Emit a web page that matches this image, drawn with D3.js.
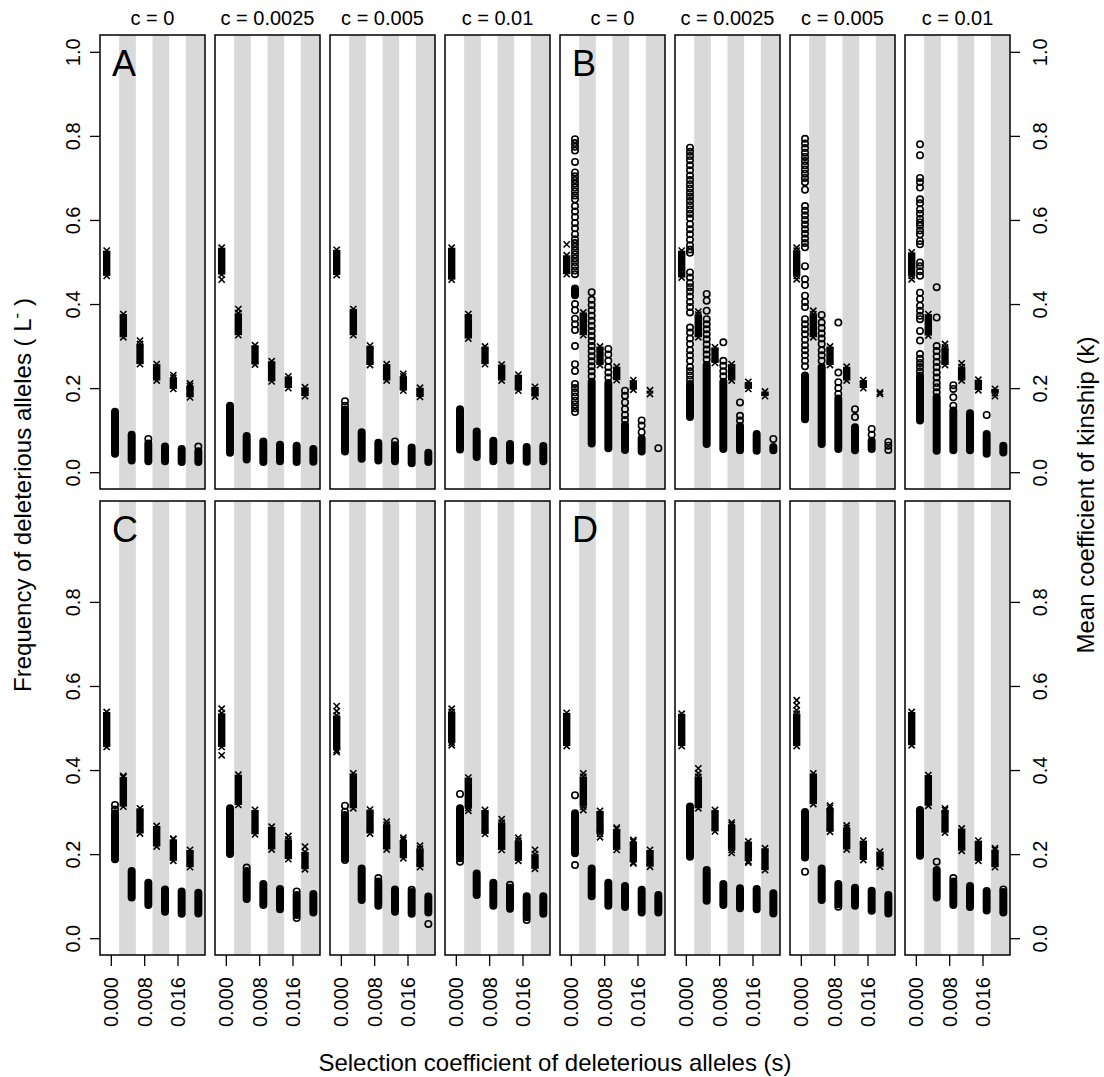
<!DOCTYPE html>
<html>
<head>
<meta charset="utf-8">
<script src="https://cdn.jsdelivr.net/npm/d3@7"></script>
<style>
body { margin: 0; background: #fff; }
svg { display: block; font-family: "Liberation Sans", Arial, Helvetica, sans-serif; }
</style>
</head>
<body>
<svg id="chart" width="1104" height="1077"></svg>
<script>
// selection coefficients (one column of points each) and the c values of the panels
var sValues = [0, 0.004, 0.008, 0.012, 0.016, 0.020];
var cLabels = ["0", "0.0025", "0.005", "0.01"];
var xTicks = [0, 0.008, 0.016];
var yTicksTop = [0, 0.2, 0.4, 0.6, 0.8, 1.0];
var yTicksBottom = [0, 0.2, 0.4, 0.6, 0.8];

// every panel: 6 columns (one per s); a column is a list of
// single replicate values or [lo, hi] runs where replicates pile up solid
// kinship = crosses, allele frequency = open circles
var kinA = [
    [[[0.467,0.527]], [[0.321,0.376]], [[0.257,0.305],0.313], [[0.218,0.257]], [[0.198,0.225],0.231], [[0.178,0.205],0.211]],
    [[[0.47,0.534],0.458], [[0.326,0.378],0.388], [[0.256,0.302]], [[0.216,0.264]], [[0.2,0.228]], [[0.181,0.202]]],
    [[[0.469,0.529]], [[0.326,0.388]], [[0.255,0.301]], [[0.218,0.257]], [[0.194,0.228],0.234], [[0.179,0.201]]],
    [[[0.458,0.534]], [[0.318,0.376]], [[0.257,0.299]], [[0.218,0.256]], [[0.194,0.232]], [[0.18,0.203]]]
];
var freqA = [
    [[[0.044,0.144]], [[0.028,0.089]], [[0.026,0.068],0.079], [[0.026,0.061]], [[0.024,0.055]], [[0.024,0.05],0.061]],
    [[[0.046,0.158]], [[0.03,0.086]], [[0.024,0.073]], [[0.026,0.065]], [[0.024,0.063]], [[0.025,0.055]]],
    [[[0.049,0.149],0.158,0.169], [[0.032,0.095]], [[0.028,0.07]], [[0.026,0.064],0.073], [[0.021,0.059]], [[0.024,0.046]]],
    [[[0.054,0.15]], [[0.036,0.097]], [[0.026,0.075]], [[0.028,0.067]], [[0.025,0.06]], [[0.026,0.062]]]
];
var kinB = [
    [[[0.471,0.516],0.542], [[0.326,0.38]], [[0.255,0.299]], [[0.219,0.251]], [[0.196,0.219]], [0.195,0.186]],
    [[[0.463,0.527]], [[0.321,0.375],0.382], [[0.26,0.297]], [[0.218,0.257]], [[0.198,0.215]], [[0.181,0.192]]],
    [[[0.467,0.527],0.534,0.459], [[0.321,0.376],0.384], [[0.255,0.299]], [[0.218,0.251]], [[0.2,0.219]], [0.19,0.186]],
    [[[0.467,0.523],0.459], [[0.325,0.376]], [[0.255,0.297],0.305], [[0.218,0.25],0.259], [[0.195,0.22]], [[0.188,0.198],0.181]]
];
var freqB = [
    [[0.792,0.783,0.774,0.765,0.738,0.713,0.704,0.695,0.686,0.677,0.668,0.658,0.649,0.633,0.62,0.607,0.593,0.58,0.566,
      0.554,0.545,0.536,0.527,0.518,0.509,0.5,0.49,0.48,0.471,[0.421,0.437],0.40,0.385,0.365,0.352,0.338,0.30,0.257,0.241,
      0.21,0.2,0.19,0.18,0.17,0.161,0.152,0.143],
     [0.428,0.41,0.398,0.385,0.372,0.36,0.348,0.336,0.324,0.312,0.3,0.288,0.276,0.264,0.252,0.24,0.228,[0.068,0.215]],
     [0.293,0.28,0.265,0.25,0.237,0.225,[0.057,0.212]],
     [0.194,0.182,0.166,0.15,0.136,0.124,[0.053,0.112]],
     [0.123,0.111,0.095,[0.049,0.08]],
     [0.057]],
    [[0.772,0.762,0.752,0.742,0.73,0.718,0.706,0.695,0.685,0.675,0.665,0.655,0.645,0.635,0.625,0.615,0.604,0.59,0.578,
      0.566,0.553,0.54,0.53,0.522,0.475,0.463,0.45,0.44,0.43,0.418,0.405,0.393,0.38,0.344,0.332,0.318,0.305,0.29,0.278,
      0.265,0.25,0.24,0.23,0.22,[0.131,0.21]],
     [0.424,0.408,0.384,0.364,0.352,0.34,0.328,0.316,0.304,0.292,0.28,0.268,[0.067,0.255]],
     [0.309,0.265,0.253,0.24,0.228,[0.055,0.215]],
     [0.166,0.134,0.123,[0.052,0.11]],
     [[0.051,0.091]],
     [0.079,[0.052,0.06]]],
    [[0.793,0.782,0.771,0.76,0.75,0.74,0.73,0.72,0.71,0.7,0.69,0.672,0.633,0.622,0.611,0.6,0.589,0.578,0.567,0.556,0.545,
      0.535,0.49,0.459,0.445,0.42,0.405,0.393,0.364,0.352,0.34,0.328,0.315,0.302,0.29,0.278,0.265,0.252,[0.126,0.23]],
     [0.374,0.356,0.343,0.33,0.318,0.305,0.29,0.278,0.265,[0.067,0.25]],
     [0.356,0.237,0.214,0.2,0.186,[0.055,0.175]],
     [0.15,0.131,[0.052,0.107]],
     [0.103,0.089,[0.055,0.075]],
     [0.072,0.063,0.053]],
    [[0.78,0.754,0.70,0.69,0.677,0.649,0.64,0.625,0.615,0.603,0.594,0.586,0.575,0.566,0.55,0.542,0.499,0.49,0.478,0.467,
      0.427,0.412,0.396,0.384,0.372,0.364,0.336,0.313,0.281,0.27,0.26,0.25,0.24,[0.123,0.23]],
     [0.44,0.368,0.30,0.288,0.275,0.262,0.25,0.237,0.225,0.212,0.202,0.19,[0.051,0.178]],
     [0.207,0.198,0.178,0.158,[0.052,0.147]],
     [[0.052,0.14]],
     [0.136,[0.044,0.091]],
     [[0.047,0.063]]]
];
var kinC = [
    [[[0.455,0.538]], [[0.313,0.383],0.386], [[0.249,0.309]], [[0.218,0.267]], [[0.184,0.235],0.237], [[0.169,0.21]]],
    [[[0.455,0.535],0.546,0.435], [[0.317,0.389]], [[0.247,0.305]], [[0.211,0.265]], [[0.188,0.235],0.243], [[0.164,0.205],0.218]],
    [[[0.447,0.53],0.552,0.54,0.443], [[0.309,0.392]], [[0.249,0.306]], [[0.211,0.27],0.277], [[0.19,0.234],0.239], [[0.169,0.213],0.22]],
    [[[0.465,0.538],0.546,0.459], [[0.31,0.382],0.303], [[0.248,0.305]], [[0.21,0.275],0.283], [[0.184,0.232],0.239], [[0.165,0.2],0.21]]
];
var freqC = [
    [[[0.19,0.297],0.317,0.306,0.188], [[0.097,0.16]], [[0.079,0.132]], [[0.063,0.116]], [[0.058,0.111]], [[0.059,0.108]]],
    [[[0.2,0.309]], [[0.093,0.16],0.168], [[0.079,0.129]], [[0.069,0.117]], [[0.055,0.103],0.111,0.048], [[0.061,0.105]]],
    [[[0.19,0.293],0.315,0.301,0.186], [[0.091,0.166]], [[0.077,0.135],0.143], [[0.063,0.116]], [[0.058,0.11],0.115], [[0.061,0.099],0.034]],
    [[[0.19,0.309],0.343,0.182], [[0.103,0.154]], [[0.077,0.132]], [[0.07,0.12],0.127], [[0.05,0.1],0.043], [[0.058,0.1]]]
];
var kinD = [
    [[[0.457,0.536]], [[0.313,0.384],0.392,0.305], [[0.248,0.303],0.24], [[0.21,0.26],0.263], [[0.18,0.23],0.234,0.178], [[0.17,0.21]]],
    [[[0.457,0.534]], [[0.309,0.384],0.404,0.392], [[0.254,0.305]], [[0.21,0.27],0.275,0.203], [[0.183,0.23],0.18], [[0.162,0.214]]],
    [[[0.457,0.534],0.566,0.554,0.542], [[0.319,0.392]], [[0.253,0.31],0.315], [[0.211,0.262],0.268], [[0.186,0.232]], [[0.17,0.206]]],
    [[[0.459,0.538]], [[0.315,0.388]], [[0.251,0.305],0.309], [[0.208,0.261]], [[0.184,0.232]], [[0.169,0.21],0.214]]
];
var freqD = [
    [[[0.202,0.297],0.34,0.174], [[0.1,0.166]], [[0.077,0.132]], [[0.074,0.124]], [[0.061,0.115]], [[0.061,0.103]]],
    [[[0.194,0.313]], [[0.089,0.162]], [[0.079,0.129]], [[0.071,0.119]], [[0.069,0.117]], [[0.059,0.107]]],
    [[[0.192,0.3],0.158], [[0.091,0.166]], [[0.081,0.129],0.075], [[0.077,0.12]], [[0.065,0.113]], [[0.059,0.103]]],
    [[[0.196,0.305]], [[0.097,0.162],0.182], [[0.079,0.135],0.143], [[0.074,0.124]], [[0.066,0.112]], [[0.061,0.11],0.116]]
];

var svg = d3.select("#chart");

var panelW = 105, panelH = 454, pitch = 115, left0 = 100;
var rows = [
    { top: 35, yTicks: yTicksTop, groups: [ { letter: "A", kin: kinA, freq: freqA }, { letter: "B", kin: kinB, freq: freqB } ] },
    { top: 501, yTicks: yTicksBottom, groups: [ { letter: "C", kin: kinC, freq: freqC }, { letter: "D", kin: kinD, freq: freqD } ] }
];

var x = d3.scaleLinear().domain([-0.0026, 0.0226]).range([0, panelW]);
var y = d3.scaleLinear().domain([-0.04, 1.04]).range([panelH, 0]);

var r = 3.2, sw = 1.6, h = 3.1;

function drawCircles(g, items, cx) {
    items.forEach(function(it) {
        if (Array.isArray(it)) {
            g.append("rect")
                .attr("x", cx - r - sw / 2).attr("width", 2 * r + sw)
                .attr("y", y(it[1]) - r - sw / 2)
                .attr("height", y(it[0]) - y(it[1]) + 2 * r + sw)
                .attr("rx", r + sw / 2)
                .attr("fill", "#000");
        } else {
            g.append("circle")
                .attr("cx", cx).attr("cy", y(it)).attr("r", r)
                .attr("fill", "none").attr("stroke", "#000").attr("stroke-width", sw);
        }
    });
}

function cross(g, cx, cy) {
    g.append("path")
        .attr("d", "M" + (cx - h) + "," + (cy - h) + "L" + (cx + h) + "," + (cy + h) +
                   "M" + (cx - h) + "," + (cy + h) + "L" + (cx + h) + "," + (cy - h))
        .attr("stroke", "#000").attr("stroke-width", 1.6).attr("fill", "none");
}

function drawCrosses(g, items, cx) {
    items.forEach(function(it) {
        if (Array.isArray(it)) {
            g.append("rect")
                .attr("x", cx - h - 0.6).attr("width", 2 * h + 1.2)
                .attr("y", y(it[1])).attr("height", y(it[0]) - y(it[1]))
                .attr("fill", "#000");
            cross(g, cx, y(it[1]));
            cross(g, cx, y(it[0]));
        } else {
            cross(g, cx, y(it));
        }
    });
}

rows.forEach(function(row, ri) {
    row.groups.forEach(function(grp, gi) {
        cLabels.forEach(function(c, ci) {
            var p = gi * 4 + ci;
            var left = left0 + p * pitch;
            var g = svg.append("g").attr("transform", "translate(" + left + "," + row.top + ")");

            // alternating background stripes
            sValues.forEach(function(s, i) {
                if (i % 2 === 1) {
                    var x0 = x(s - 0.002);
                    var x1 = Math.min(panelW, x(s + 0.004 * (i === sValues.length - 1 ? 1 : 0.5)));
                    g.append("rect").attr("x", x0).attr("y", 0)
                        .attr("width", x1 - x0).attr("height", panelH)
                        .attr("fill", "#d9d9d9");
                }
            });

            sValues.forEach(function(s, i) {
                drawCrosses(g, grp.kin[ci][i], x(s - 0.001));
                drawCircles(g, grp.freq[ci][i], x(s + 0.001));
            });

            g.append("rect").attr("width", panelW).attr("height", panelH)
                .attr("fill", "none").attr("stroke", "#000").attr("stroke-width", 1.5);

            if (ci === 0) {
                g.append("text").attr("x", 12).attr("y", 41)
                    .attr("font-size", 36).text(grp.letter);
            }

            if (ri === 0) {
                g.append("text").attr("x", panelW / 2).attr("y", -10)
                    .attr("text-anchor", "middle").attr("font-size", 20)
                    .text("c = " + c);
            }

            if (ri === 1) {
                var ax = g.append("g").attr("transform", "translate(0," + panelH + ")")
                    .call(d3.axisBottom(x).tickValues(xTicks).tickSize(11).tickSizeOuter(0)
                        .tickFormat(d3.format(".3f")));
                ax.select(".domain").remove();
                ax.attr("font-size", 20).attr("font-family", null);
                ax.selectAll("line").attr("stroke-width", 1.3);
                ax.selectAll("text").attr("y", null).attr("dy", null)
                    .attr("text-anchor", "end")
                    .attr("transform", "translate(7,22) rotate(-90)");
            }

            if (p === 0) {
                var ay = g.append("g")
                    .call(d3.axisLeft(y).tickValues(row.yTicks).tickSize(10).tickSizeOuter(0)
                        .tickFormat(d3.format(".1f")));
                ay.select(".domain").remove();
                ay.attr("font-size", 20).attr("font-family", null);
                ay.selectAll("line").attr("stroke-width", 1.3);
                ay.selectAll("text").attr("x", null).attr("dy", null)
                    .attr("text-anchor", "middle")
                    .attr("transform", "translate(-20,0) rotate(-90)");
            }
            if (p === 7) {
                var ayr = g.append("g").attr("transform", "translate(" + panelW + ",0)")
                    .call(d3.axisRight(y).tickValues(row.yTicks).tickSize(10).tickSizeOuter(0)
                        .tickFormat(d3.format(".1f")));
                ayr.select(".domain").remove();
                ayr.attr("font-size", 20).attr("font-family", null);
                ayr.selectAll("line").attr("stroke-width", 1.3);
                ayr.selectAll("text").attr("x", null).attr("dy", null)
                    .attr("text-anchor", "middle")
                    .attr("transform", "translate(37,0) rotate(-90)");
            }
        });
    });
});

// axis titles
svg.append("text").attr("x", 555).attr("y", 1071)
    .attr("text-anchor", "middle").attr("font-size", 24)
    .text("Selection coefficient of deleterious alleles (s)");

var lt = svg.append("text").attr("transform", "translate(31,495) rotate(-90)")
    .attr("text-anchor", "middle").attr("font-size", 24);
lt.append("tspan").text("Frequency of deleterious alleles ( L");
lt.append("tspan").attr("dy", -9).attr("font-size", 17).text("-");
lt.append("tspan").attr("dy", 9).text(" )");

svg.append("text").attr("transform", "translate(1094,495) rotate(-90)")
    .attr("text-anchor", "middle").attr("font-size", 24)
    .text("Mean coefficient of kinship (k)");
</script>
</body>
</html>
